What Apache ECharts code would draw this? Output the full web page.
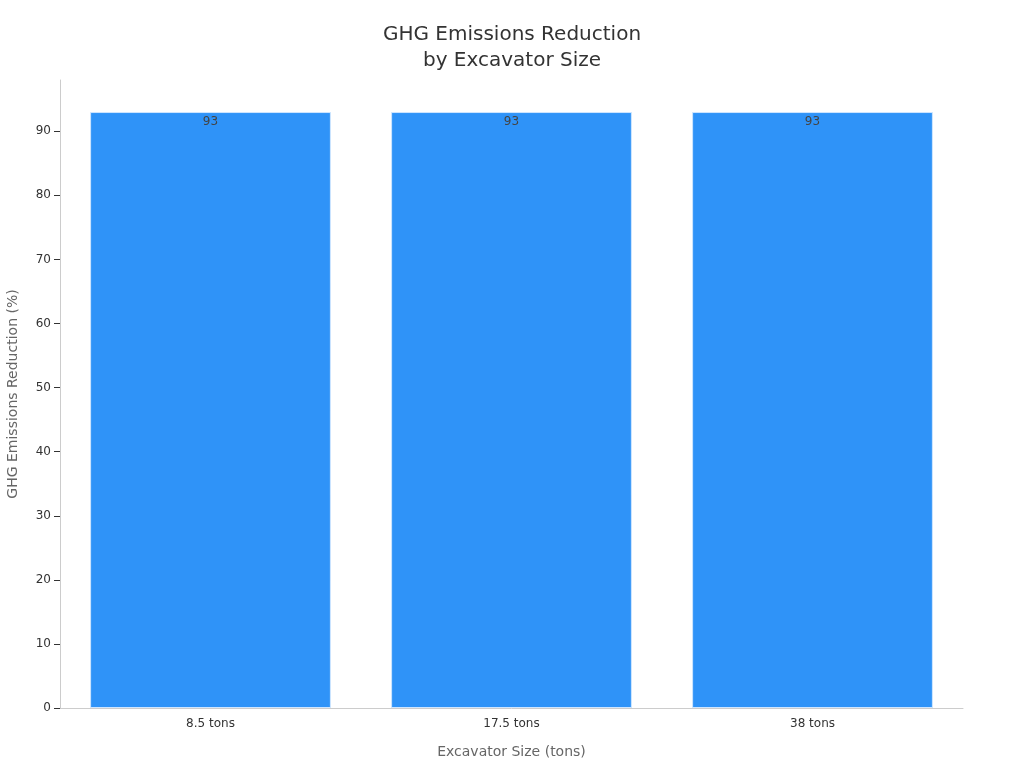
<!DOCTYPE html>
<html><head><meta charset="utf-8">
<script src="https://cdn.jsdelivr.net/npm/echarts@6/dist/echarts.min.js"></script>
<style>html,body{margin:0;padding:0;background:#fff}#c{width:1024px;height:768px}</style>
</head><body><div id="c"></div>
<script>
var categories = ['8.5 tons', '17.5 tons', '38 tons'];
var reductionValues = [93, 93, 93];
var yTicks = [0, 10, 20, 30, 40, 50, 60, 70, 80, 90];

var chart = echarts.init(document.getElementById('c'));
var font = 'DejaVu Sans';
chart.setOption({
  animation: false,
  textStyle: { fontFamily: font },
  title: {
    text: 'GHG Emissions Reduction\nby Excavator Size',
    left: 'center', top: 17,
    textStyle: { fontFamily: font, fontSize: 20, fontWeight: 'normal', color: '#333', lineHeight: 26 }
  },
  grid: { left: 60, right: 61, top: 80, bottom: 60, containLabel: false, outerBoundsMode: 'none' },
  xAxis: {
    type: 'category',
    data: categories,
    name: 'Excavator Size (tons)',
    nameLocation: 'middle',
    nameGap: 37,
    nameTextStyle: { fontFamily: font, fontSize: 14, color: '#666' },
    axisLine: { lineStyle: { color: '#ccc' } },
    axisTick: { alignWithLabel: true, length: 5, lineStyle: { color: '#333' } },
    axisLabel: { fontFamily: font, fontSize: 12, color: '#333', margin: 10 }
  },
  yAxis: {
    type: 'value',
    min: 0, max: 98, interval: 10,
    name: 'GHG Emissions Reduction (%)',
    nameLocation: 'middle',
    nameGap: 40,
    nameTextStyle: { fontFamily: font, fontSize: 14, color: '#666' },
    axisLine: { show: true, lineStyle: { color: '#ccc' } },
    axisTick: { show: true, length: 6, lineStyle: { color: '#333' }, customValues: yTicks },
    axisLabel: { fontFamily: font, fontSize: 12, color: '#333', margin: 9, customValues: yTicks },
    splitLine: { show: false }
  },
  series: [{
    type: 'bar',
    data: reductionValues,
    barCategoryGap: '20%',
    itemStyle: { color: '#2f93f8', borderColor: '#cfe6ff', borderWidth: 1 },
    label: { show: true, position: 'insideTop', distance: 4, fontFamily: font, fontSize: 12, color: '#444' }
  }]
});
</script></body></html>
